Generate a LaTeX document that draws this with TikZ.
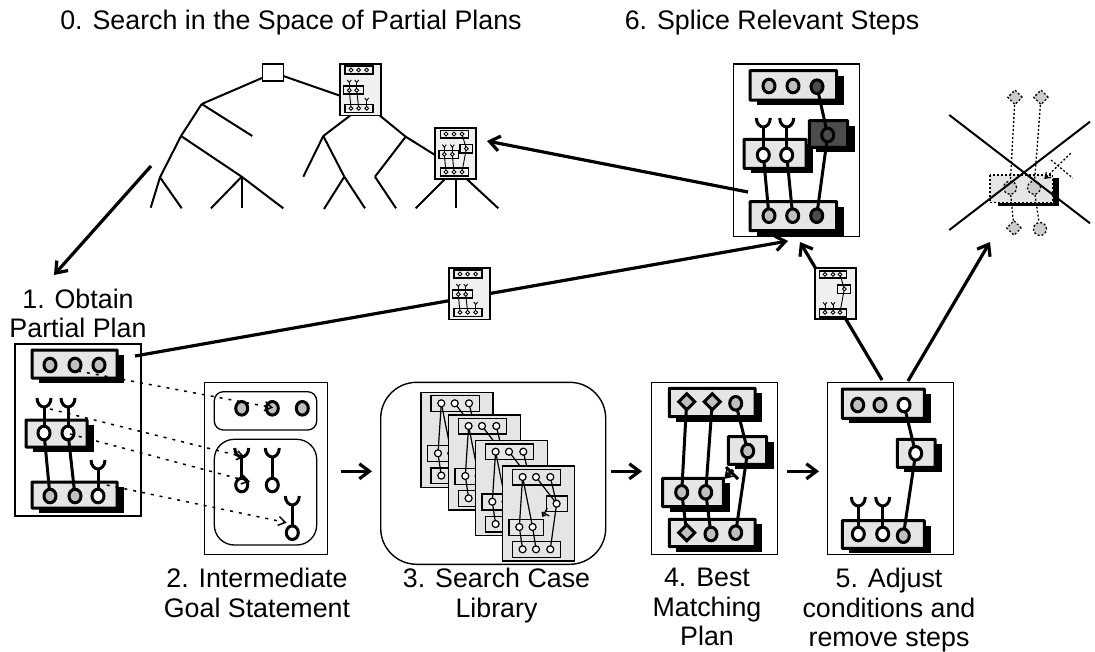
\documentclass[tikz,border=0pt]{standalone}
\usepackage{fontspec}
\setmainfont{Liberation Sans}
\usetikzlibrary{shapes.geometric,arrows.meta,positioning,calc}

\tikzset{
    panel/.style={draw,fill=white,line width=1.4pt,rectangle,inner sep=0pt},
    sheet/.style={draw,line width=1.2pt,fill=black!10},
    boxline/.style={line width=3pt,fill=black!10,rounded corners=0.5pt},
    link/.style={line width=3pt},
    dotline/.style={line width=3pt},
    thinline/.style={line width=1.2pt},
    tinyline/.style={line width=0.9pt},
    treeline/.style={line width=2pt},
    flow/.style={line width=3.2pt,-{Straight Barb[length=10pt,width=15pt]}},
    ghost/.style={line width=1.3pt,dash pattern=on 2pt off 2pt},
    ghostdot/.style={ghost,draw,fill=black!20,inner sep=0pt},
    goalline/.style={line width=1.5pt,dash pattern=on 3pt off 6pt,-{Straight Barb[length=7pt,width=9pt]}},
    caption/.style={align=center,anchor=north,inner sep=0pt,font=\fontsize{26.8}{29.5}\selectfont}
}

% box with its shadow: x1 y1 x2 y2
\newcommand{\stepbox}[4]{
    \fill (#1+7,#2+5) rectangle (#3+7,#4+5);
    \draw [boxline] (#1,#2) rectangle (#3,#4);
}
\newcommand{\stepdot}[3]{\draw [dotline,fill=#3] (#1,#2) ellipse [x radius=6,y radius=6.8];}
\newcommand{\stepdiam}[3]{\draw [dotline,fill=#3,line join=miter] (#1-8,#2) -- (#1,#2-8) -- (#1+8,#2) -- (#1,#2+8) -- cycle;}
% fork over a step: x, top, bottom
\newcommand{\forkup}[3]{
    \draw [link] (#1-7,#2) .. controls (#1-7,#2+6) and (#1-3,#2+9) .. (#1,#2+9) .. controls (#1+3,#2+9) and (#1+7,#2+6) .. (#1+7,#2);
    \draw [link] (#1,#2+9) -- (#1,#3);
}
\newcommand{\tinyfork}[3]{
    \draw [tinyline] (#1-2,#2) -- (#1,#2+2.5) -- (#1+2,#2);
    \draw [tinyline] (#1,#2+2.5) -- (#1,#3);
}
\newcommand{\tinydots}[1]{
    \foreach \x/\y in {#1}
    {
        \draw [tinyline,fill=white] (\x,\y) circle (1.9);
    }
}
\newcommand{\tinybox}[4]{\draw [line width=1.1pt,fill=black!6] (#1,#2) rectangle (#3,#4);}

\begin{document}
\begin{tikzpicture}[x=1pt,y=-1pt]
    \useasboundingbox (0,0) rectangle (1095,651);

    % the panels
    \node [panel,minimum width=126pt,minimum height=172pt] (plan1) at (78,430) {};
    \node [panel,minimum width=123pt,minimum height=172pt] (goal2) at (266,468.3) {};
    \node [panel,rounded corners=36pt,minimum width=225pt,minimum height=182pt] (lib3) at (493.2,473.3) {};
    \node [panel,minimum width=126pt,minimum height=172pt] (plan4) at (714.7,468.3) {};
    \node [panel,minimum width=126pt,minimum height=172pt] (plan5) at (890.7,468.3) {};
    \node [panel,minimum width=126pt,minimum height=172.5pt] (plan6) at (796.3,150.3) {};

    % partial plan
    \stepbox{32}{350}{117}{378}
    \stepbox{26}{420}{87}{447}
    \stepbox{32}{482}{117}{508}
    \forkup{44}{398}{433}
    \forkup{68}{398}{433}
    \forkup{98}{460}{496}
    \draw [link] (44,433) -- (50,496);
    \draw [link] (68,433) -- (75,496);
    \foreach \x/\y/\fc in {50/365/black!25,75/365/black!25,99/365/black!25,44/433/white,68/433/white,50/496/black!25,75/496/black!25,98/496/white}
    {
        \stepdot{\x}{\y}{\fc}
    }

    % goal statement
    \draw [line width=1.3pt,rounded corners=9pt] (214.3,391.7) rectangle (316.7,430);
    \draw [line width=1.3pt,rounded corners=20pt] (214.3,439.3) rectangle (316.7,545);
    \foreach \x in {241.7,272.3,302.3}
    {
        \stepdot{\x}{408.3}{black!25}
    }
    \foreach \x in {241.7,272.3}
    {
        \forkup{\x}{448}{485}
        \stepdot{\x}{485}{white}
    }
    \forkup{292.3}{496}{532.7}
    \stepdot{292.3}{532.7}{white}

    % case library
    \foreach \u/\v in {421/392.3,448.3/415,475.3/440.7,502.3/466}
    {
        \begin{scope}[shift={(\u,\v)}]
            \draw [sheet] (0,0) rectangle (72,95);
            \draw [thinline] (10,3.3) rectangle (58.3,19);
            \draw [thinline] (6.7,53.3) rectangle (41,69.3);
            \draw [thinline] (44.3,30) rectangle (65,45.7);
            \draw [thinline] (10,75.7) rectangle (58.3,91.3);
            \draw [thinline] (20.3,11) -- (17,61) -- (20.3,83.3);
            \draw [thinline] (20.3,11) -- (30.3,61) -- (33.7,83.3);
            \draw [thinline] (33.7,11) -- (54.3,37.7) -- (48,83.3);
            \draw [thinline] (48,11) -- (54.3,37.7);
            \draw [thinline,-{Straight Barb[length=3pt,width=5pt]}] (45,42) -- (40,51);
            \draw [thinline] (40,46) -- (47,50);
            \foreach \x/\y in {20.3/11,33.7/11,48/11,17/61,30.3/61,54.3/37.7,20.3/83.3,33.7/83.3,48/83.3}
            {
                \draw [thinline,fill=white] (\x,\y) circle (3.5);
            }
        \end{scope}
    }

    % best matching plan
    \stepbox{669.3}{388.3}{755}{416.7}
    \stepbox{728.3}{436.7}{766.7}{464.3}
    \stepbox{662.7}{478.3}{723.3}{506.7}
    \stepbox{669.3}{519.3}{755}{546.7}
    \draw [link] (686.7,401.7) -- (681.7,492.3) -- (686.7,532.7);
    \draw [link] (712.3,401.7) -- (705.7,492.3) -- (711,534);
    \draw [link] (735.7,403.3) -- (747.7,451) -- (735.7,532.7);
    \draw [line width=3pt,-{Stealth[length=9pt,width=11pt]}] (733,470) -- (724,479);
    \draw [line width=3pt] (726,467) -- (738,479);
    \foreach \x/\y in {686.7/401.7,712.3/401.7,686.7/532.7}
    {
        \stepdiam{\x}{\y}{black!25}
    }
    \foreach \x/\y in {735.7/403.3,747.7/451,681.7/492.3,705.7/492.3,711/534,735.7/532.7}
    {
        \stepdot{\x}{\y}{black!25}
    }

    % adjusted plan
    \stepbox{842.3}{389}{924.3}{418.3}
    \stepbox{897.3}{439.3}{935}{467.3}
    \stepbox{842.3}{520.7}{924.3}{548.3}
    \forkup{858.3}{497}{534}
    \forkup{882.7}{497}{534}
    \draw [link] (904,405) -- (915.7,453.3) -- (903.3,535.7);
    \foreach \x/\y/\fc in {857.7/405/black!25,880/405/black!25,904/405/white,915.7/453.3/white,858.3/534/white,882.7/534/white,903.3/535.7/black!25}
    {
        \stepdot{\x}{\y}{\fc}
    }

    % spliced plan
    \stepbox{750}{70.7}{836.7}{100}
    \stepbox{744}{139.3}{806}{168.3}
    \stepbox{750}{201.7}{836.7}{230.7}
    \fill (816.3,125.7) rectangle (854.7,152.3);
    \draw [boxline,fill=black!70] (809.3,120.7) rectangle (847.7,147.3);
    \forkup{763.3}{118}{155}
    \forkup{786.7}{118}{155}
    \draw [link] (763.3,155) -- (769,215.7);
    \draw [link] (786.7,155) -- (792.7,215.7);
    \draw [link] (817,86.7) -- (827.7,135) -- (816.7,215.7);
    \foreach \x/\y/\fc in {769/86/black!25,793/86/black!25,817/86.7/black!70,827.7/135/black!70,763.3/155/white,786.7/155/white,769/215.7/black!25,792.7/215.7/black!25,816.7/215.7/black!70}
    {
        \stepdot{\x}{\y}{\fc}
    }

    % removed step
    \fill (1052.7,178) rectangle (1059,206);
    \fill (998,202.7) rectangle (1059,206);
    \draw [ghost,fill=black!10] (990,175) rectangle (1052.7,202.7);
    \node [ghostdot,diamond,minimum size=15pt] (ghostA) at (1015,97.3) {};
    \node [ghostdot,diamond,minimum size=15pt] (ghostB) at (1041,97.3) {};
    \node [ghostdot,circle,minimum size=13pt] (ghostC) at (1010,187.7) {};
    \node [ghostdot,circle,minimum size=13pt] (ghostD) at (1034,187.7) {};
    \node [ghostdot,diamond,minimum size=15pt] (ghostE) at (1014,228) {};
    \node [ghostdot,circle,minimum size=13pt] (ghostF) at (1040,229) {};
    \draw [ghost] (ghostA) -- (ghostC);
    \draw [ghost] (ghostB) -- (ghostD);
    \draw [ghost] (ghostC) -- (ghostE);
    \draw [ghost] (ghostD) -- (ghostF);
    \draw [ghost] (1051,160) -- (1072.7,178);
    \draw [ghost,-{Straight Barb[length=5pt,width=7pt]}] (1070.7,153.3) -- (1044.3,179);
    \draw [line width=2pt] (949.3,115) -- (1090,223.3);
    \draw [line width=2pt] (949.3,230) -- (1090,121.7);

    % goal lines
    \coordinate (g1a) at (78,371);
    \coordinate (g1b) at (273,407.7);
    \coordinate (g2a) at (50,409);
    \coordinate (g2b) at (245,457.3);
    \coordinate (g3a) at (70,434);
    \coordinate (g3b) at (250,481.7);
    \coordinate (g4a) at (106.7,485);
    \coordinate (g4b) at (286.7,522.7);
    \foreach \n in {1,2,3,4}
    {
        \draw [goalline] (g\n a) -- (g\n b);
    }

    % search tree
    \node [draw,fill=white,line width=1.5pt,minimum width=21pt,minimum height=17pt,inner sep=0pt] (root) at (272.8,72.3) {};
    \coordinate (a) at (262,78);
    \coordinate (b) at (201.7,104);
    \coordinate (c) at (252.3,136);
    \coordinate (d) at (181,136);
    \coordinate (e) at (160,177.3);
    \coordinate (f) at (150.7,207.7);
    \coordinate (g) at (181.7,208.3);
    \coordinate (h) at (241.7,176.7);
    \coordinate (i) at (211,208.3);
    \coordinate (j) at (241.7,208.3);
    \coordinate (k) at (283.3,208.3);
    \coordinate (l) at (283.3,76);
    \coordinate (m) at (340,95.7);
    \coordinate (n) at (350,115.7);
    \coordinate (o) at (323.3,136);
    \coordinate (p) at (303.3,176.7);
    \coordinate (q) at (344.3,176.7);
    \coordinate (r) at (324,209);
    \coordinate (s) at (365,208.3);
    \coordinate (t) at (380,115.7);
    \coordinate (u) at (405.7,136.7);
    \coordinate (v) at (375,176.7);
    \coordinate (w) at (396,208.3);
    \coordinate (x) at (435,155);
    \coordinate (y) at (445,179);
    \coordinate (z) at (415.7,208.3);
    \coordinate (aa) at (456,179);
    \coordinate (ab) at (456,208.3);
    \coordinate (ac) at (466.7,179);
    \coordinate (ad) at (498.3,208.3);
    \foreach \s/\t in {a/b,b/c,b/d,d/e,e/f,e/g,d/h,h/i,h/j,h/k,l/m,n/o,o/p,o/q,q/r,q/s,t/u,u/v,v/w,u/x,y/z,aa/ab,ac/ad}
    {
        \draw [treeline] (\s) -- (\t);
    }

    % arrows
    \coordinate (treeout) at (151,166);
    \coordinate (plan1in) at (54,275);
    \coordinate (plan6out) at (748,192);
    \coordinate (treein) at (487,141);
    \coordinate (plan1out) at (135,356);
    \coordinate (plan6in) at (788,241);
    \coordinate (plan6low) at (800,242);
    \coordinate (plan5top) at (882,380);
    \coordinate (plan5right) at (908,381);
    \coordinate (crossin) at (990,242);
    \draw [flow] (treeout) -- (plan1in);
    \draw [flow] (plan6out) -- (treein);
    \draw [flow] (plan1out) -- (plan6in);
    \draw [flow] (plan5top) -- (plan6low);
    \draw [flow] (plan5right) -- (crossin);
    \draw [flow,shorten <=13pt,shorten >=8pt] ([yshift=-3pt]goal2.east) -- ([yshift=-3pt]goal2.east -| lib3.west);
    \draw [flow,shorten <=5pt,shorten >=9pt] ([yshift=2pt]lib3.east) -- ([yshift=-3pt]plan4.west);
    \draw [flow,shorten <=9pt,shorten >=8pt] ([yshift=-3pt]plan4.east) -- ([yshift=-3pt]plan5.west);

    % small plans
    \foreach \u/\v in {340/64,449/268}
    {
        \begin{scope}[shift={(\u,\v)}]
            \draw [line width=1.4pt,fill=black!6] (0,0) rectangle (41,51.5);
            \tinybox{5}{2}{33}{10}
            \tinybox{3.7}{22}{23.3}{30}
            \tinybox{5}{40.3}{33}{48.7}
            \tinyfork{9.3}{16}{26}
            \tinyfork{16.7}{16}{26}
            \tinyfork{26.7}{34}{44}
            \draw [tinyline] (9.3,26.3) -- (11,44.3);
            \draw [tinyline] (16.7,26.3) -- (18.7,44.3);
            \tinydots{11/6,18.7/6,26.7/6,9.3/26.3,16.7/26.3,11/44.3,18.7/44.3,26.7/44.3}
        \end{scope}
    }
    \begin{scope}[shift={(435,128)}]
        \draw [line width=1.4pt,fill=black!6] (0,0) rectangle (41,51);
        \tinybox{5.7}{2.7}{33.3}{10}
        \tinybox{4}{22.3}{23.3}{30.7}
        \tinybox{25}{16.7}{37.3}{25}
        \tinybox{5.7}{40}{33.3}{48}
        \tinyfork{9.3}{16.7}{26}
        \tinyfork{17.3}{16.7}{26}
        \draw [tinyline] (9.3,26.3) -- (11,44);
        \draw [tinyline] (17.3,26.3) -- (19,44);
        \draw [tinyline] (27,6) -- (31.3,20.7) -- (27,44);
        \tinydots{11/6,19/6,27/6,9.3/26.3,17.3/26.3,31.3/20.7,11/44,19/44,27/44}
    \end{scope}
    \begin{scope}[shift={(815,268)}]
        \draw [line width=1.4pt,fill=black!6] (0,0) rectangle (41,51);
        \tinybox{4.3}{3}{31.7}{10}
        \tinybox{22.7}{17}{35.7}{25.3}
        \tinybox{4.3}{41}{31.7}{49}
        \tinyfork{10}{34.3}{44}
        \tinyfork{18}{34.3}{44}
        \draw [tinyline] (25,6.3) -- (29.3,21) -- (25,44.3);
        \tinydots{10/6.3,18/6.3,25/6.3,29.3/21,10/44.3,18/44.3,25/44.3}
    \end{scope}

    % captions
    \node [caption] (cap0) at (291,10) {0. Search in the Space of Partial Plans};
    \node [caption] (cap6) at (772,10) {6. Splice Relevant Steps};
    \node [caption] (cap1) at (78,288.5) {1. Obtain\\Partial Plan};
    \node [caption] (cap2) at (257,568) {2. Intermediate\\Goal Statement};
    \node [caption] (cap3) at (496.5,568) {3. Search Case\\Library};
    \node [caption] (cap4) at (707,568) {4. Best\\Matching\\Plan};
    \node [caption] (cap5) at (889,568) {5. Adjust\\conditions and\\remove steps};
\end{tikzpicture}
\end{document}
